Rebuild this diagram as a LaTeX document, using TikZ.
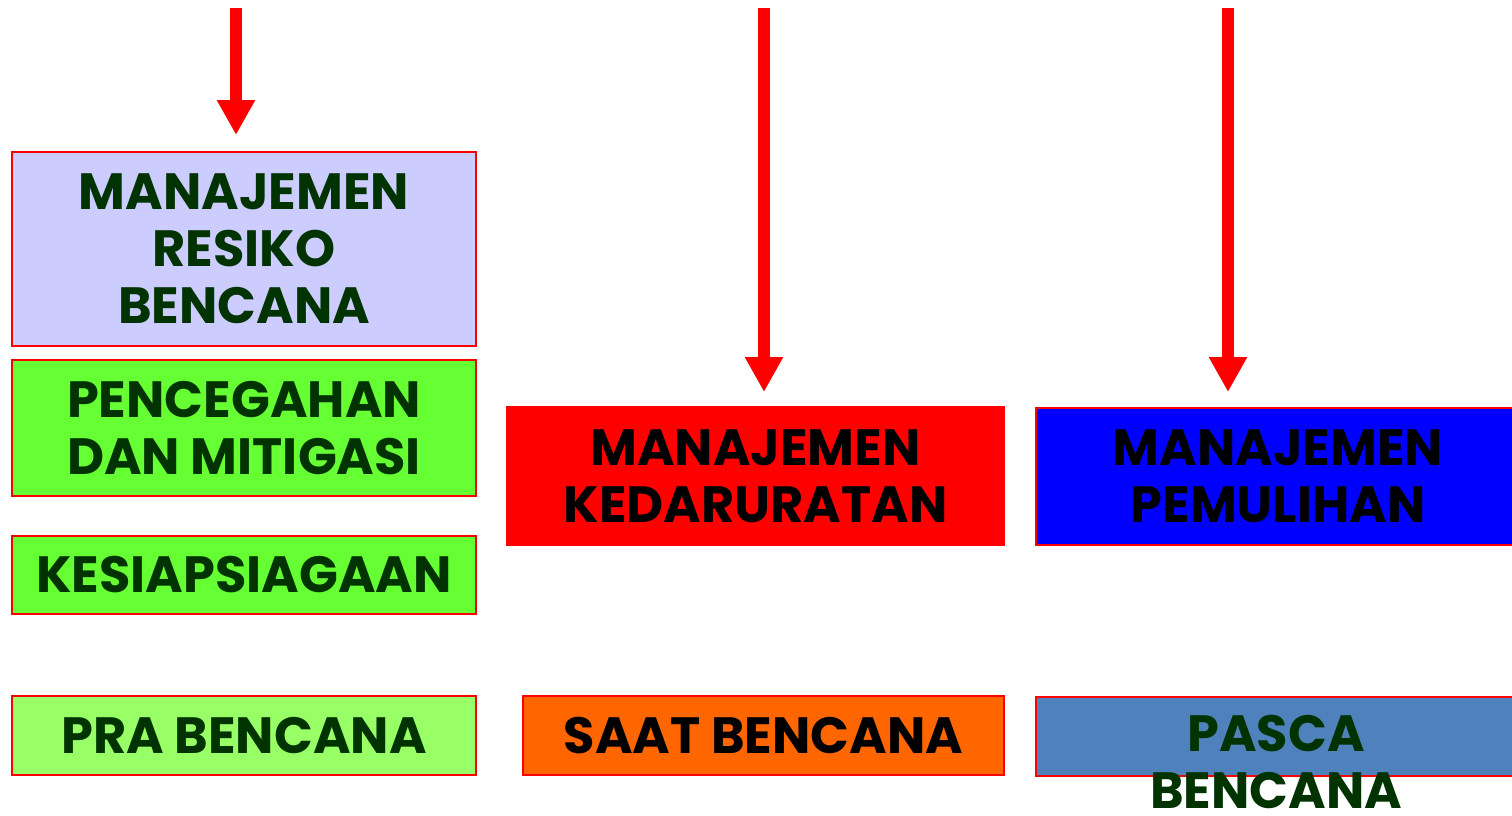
\documentclass[tikz,border=0pt]{standalone}
\usepackage{fontspec}
\setmainfont{Poppins}
\usetikzlibrary{arrows.meta}
\definecolor{dgreen}{HTML}{003300}
\definecolor{lav}{HTML}{CCCCFF}
\definecolor{lgreen}{HTML}{66FF33}
\definecolor{pgreen}{HTML}{99FF66}
\definecolor{orng}{HTML}{FF6600}
\definecolor{steel}{HTML}{4F81BD}
\tikzset{
  box/.style={draw=red, line width=2pt, inner sep=0pt, align=center},
  lbl/.style={font=\bfseries\fontsize{51}{57}\selectfont},
  arr/.style={red, line width=12pt, -{Triangle[length=35pt,width=36pt]}}
}
\begin{document}
\begin{tikzpicture}[x=1pt,y=-1pt]
\useasboundingbox (0,0) rectangle (1512,815);
\node[box, fill=lav, lbl, text=dgreen, minimum width=464pt, minimum height=194pt] (mrb) at (244,249) {MANAJEMEN\\RESIKO\\BENCANA};
\node[box, fill=lgreen, lbl, text=dgreen, minimum width=464pt, minimum height=136pt] (pdm) at (244,428) {PENCEGAHAN\\DAN MITIGASI};
\node[box, fill=lgreen, lbl, text=dgreen, minimum width=464pt, minimum height=78pt] (kes) at (244,575) {KESIAPSIAGAAN};
\node[box, fill=pgreen, lbl, text=dgreen, minimum width=464pt, minimum height=79pt] (pra) at (244,735.5) {PRA BENCANA};
\node[box, fill=red, lbl, text=black, minimum width=497pt, minimum height=138pt] (mk) at (755.5,476) {MANAJEMEN\\KEDARURATAN};
\node[box, fill=blue, lbl, text=black, minimum width=484pt, minimum height=137pt, text width=484pt] (mp) at (1278,476.5) {MANAJEMEN\\PEMULIHAN};
\node[box, fill=orng, lbl, text=black, minimum width=481pt, minimum height=79pt] (saat) at (763.5,735.5) {SAAT BENCANA};
\node[box, fill=steel, minimum width=484pt, minimum height=79pt] (pasca) at (1278,736.5) {};
\node[lbl, text=dgreen, align=center, anchor=base, inner sep=0pt, text depth=0pt] (pascatext) at (1276,808) {PASCA\\BENCANA};
\coordinate (s1) at (236,8);
\coordinate (e1) at (236,135);
\coordinate (s2) at (764,8);
\coordinate (e2) at (764,392);
\coordinate (s3) at (1228,8);
\coordinate (e3) at (1228,392);
\draw[arr] (s1) -- (e1);
\draw[arr] (s2) -- (e2);
\draw[arr] (s3) -- (e3);
\end{tikzpicture}
\end{document}
